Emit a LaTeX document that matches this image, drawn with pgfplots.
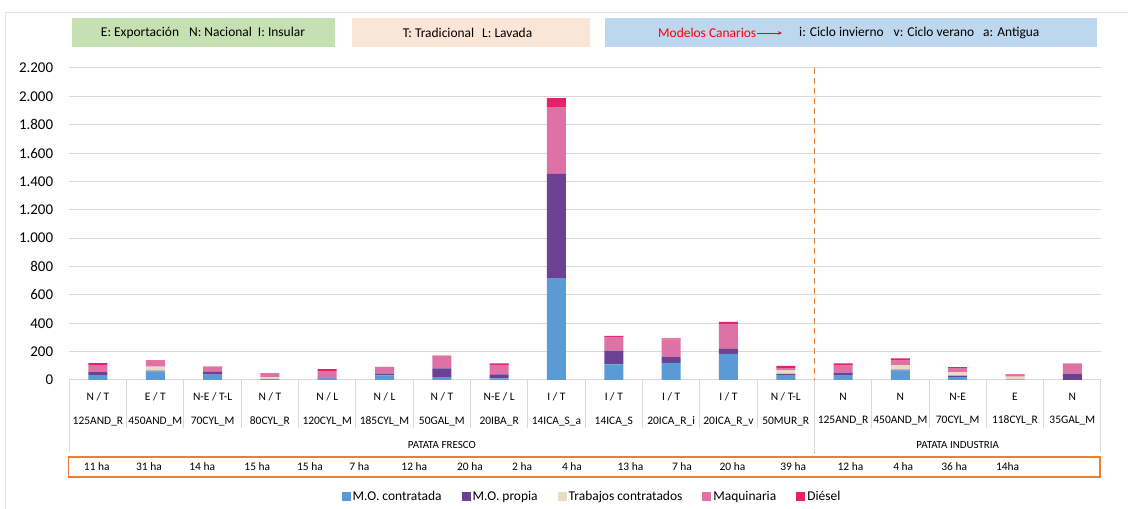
\documentclass[border=0pt]{standalone}
\usepackage{fontspec}
\setmainfont{Carlito}
\usepackage{pgfplots}
\usepackage{pgfplotstable}
\pgfplotsset{compat=1.18}
\usetikzlibrary{arrows.meta}

\definecolor{mocont}{HTML}{5B9BD5}
\definecolor{moprop}{HTML}{6B4194}
\definecolor{trab}{HTML}{E6DDC3}
\definecolor{maq}{HTML}{DE72A6}
\definecolor{dies}{HTML}{E6216A}
\definecolor{gridgray}{HTML}{D9D9D9}
\definecolor{orangeline}{HTML}{ED7D31}
\definecolor{boxgreen}{HTML}{C5E0B3}
\definecolor{boxpeach}{HTML}{FBE5D6}
\definecolor{boxblue}{HTML}{BDD7EE}

% costes por modelo (apilados)
\pgfplotstableread{
x  blue purple beige pink diesel
0   35   21    0    49   14
1   61    5   28    40    5
2   38   19    0    35    2
3    2    5   12    23    4
4   10    7    0    45   14
5   33   12    0    45    2
6   21   61    0    87    2
7   12   28    0    66   12
8  715  739    0   466   68
9  111   96    0    97    7
10 120   45    0   122    7
11 184   35    0   172   18
12  35    8   25    15   17
13  31   21    0    49   16
14  68    5   31    33   16
15  21    9   26    28    7
16   0    2   21    14    5
17   0   45    0    68    2
}\costs

\newcommand{\ha}[2]{\node[font=\fontsize{11.5}{13}\selectfont] at ([yshift=-87bp]axis cs:#1,0) {#2};}

\begin{document}
\begin{tikzpicture}[x=1bp,y=1bp]
\useasboundingbox (0,0) rectangle (1128,509);
\draw[gridgray!70, line width=0.8bp] (5,0) -- (5,497) -- (1128,497);

\begin{axis}[
  at={(69.3bp,129bp)}, anchor=south west,
  scale only axis, width=1031.7bp, height=312bp,
  ybar stacked, bar width=19bp,
  xmin=-0.5, xmax=17.5, ymin=0, ymax=2200,
  axis line style={draw=none},
  major tick length=0pt,
  ymajorgrids, grid style={gridgray, line width=1bp},
  ytick={0,200,...,2200},
  scaled y ticks=false,
  /pgf/number format/assume math mode=true,
  yticklabel style={font=\fontsize{15}{18}\selectfont, anchor=east, inner sep=0pt, xshift=-16bp,
    /pgf/number format/1000 sep={.}},
  xtick={0,...,17},
  xticklabels={
    {N / T\\125AND\_R},{E / T\\450AND\_M},{N-E / T-L\\70CYL\_M},{N / T\\80CYL\_R},
    {N / L\\120CYL\_M},{N / L\\185CYL\_M},{N / T\\50GAL\_M},{N-E / L\\20IBA\_R},
    {I / T\\14ICA\_S\_a},{I / T\\14ICA\_S},{I / T\\20ICA\_R\_i},{I / T\\20ICA\_R\_v},
    {N / T-L\\50MUR\_R},{N\\125AND\_R},{N\\450AND\_M},{N-E\\70CYL\_M},
    {E\\118CYL\_R},{N\\35GAL\_M}},
  xticklabel style={font=\fontsize{11.5}{24}\selectfont, align=center, anchor=north,
    inner sep=0pt, yshift=-12.5bp},
  clip=false,
  legend style={at={(0.5066,-0.375)}, anchor=center, draw=none, fill=none,
    legend columns=5, font=\fontsize{13.5}{16}\selectfont,
    /tikz/every even column/.append style={column sep=18bp}},
  legend image code/.code={\fill[#1] (0bp,-4.5bp) rectangle (9bp,4.5bp);},
]
\addplot[fill=mocont, draw=none] table[x=x, y=blue]{\costs};
\addlegendentry{M.O. contratada}
\addplot[fill=moprop, draw=none] table[x=x, y=purple]{\costs};
\addlegendentry{M.O. propia}
\addplot[fill=trab, draw=none] table[x=x, y=beige]{\costs};
\addlegendentry{Trabajos contratados}
\addplot[fill=maq, draw=none] table[x=x, y=pink]{\costs};
\addlegendentry{Maquinaria}
\addplot[fill=dies, draw=none] table[x=x, y=diesel]{\costs};
\addlegendentry{Diésel}

% separadores de categorías
\pgfplotsinvokeforeach{0.5,1.5,2.5,3.5,4.5,5.5,6.5,7.5,8.5,9.5,10.5,11.5,13.5,14.5,15.5,16.5}{
  \draw[gridgray, line width=1bp] (axis cs:#1,0) -- ([yshift=-48bp]axis cs:#1,0);
}
\pgfplotsinvokeforeach{-0.5,12.5,17.5}{
  \draw[gridgray, line width=1bp] (axis cs:#1,0) -- ([yshift=-72bp]axis cs:#1,0);
}
\draw[orangeline, line width=1.8bp, dash pattern=on 6bp off 4bp]
  (axis cs:12.5,2200) -- ([yshift=-73bp]axis cs:12.5,0);

% grupos
\node[font=\fontsize{11}{13}\selectfont] at ([yshift=-65bp]axis cs:6,0) {PATATA FRESCO};
\node[font=\fontsize{11}{13}\selectfont] at ([yshift=-65bp]axis cs:15,0) {PATATA INDUSTRIA};

% superficie
\draw[orangeline, line width=1.3bp] ([yshift=-77bp]axis cs:-0.52,0) rectangle ([yshift=-97bp]axis cs:17.48,0);
\ha{-0.02}{11 ha}\ha{0.89}{31 ha}\ha{1.82}{14 ha}\ha{2.78}{15 ha}\ha{3.70}{15 ha}\ha{4.56}{7 ha}
\ha{5.52}{12 ha}\ha{6.49}{20 ha}\ha{7.40}{2 ha}\ha{8.27}{4 ha}\ha{9.29}{13 ha}\ha{10.19}{7 ha}
\ha{11.07}{20 ha}\ha{12.13}{39 ha}\ha{13.13}{12 ha}\ha{14.05}{4 ha}\ha{14.94}{36 ha}\ha{15.87}{14ha}
\end{axis}

% cuadros de claves
\fill[boxgreen] (72,462) rectangle (335,491);
\node[font=\fontsize{13.5}{16}\selectfont] at (203,476.5)
  {E: Exportación\hspace{10bp}N: Nacional\hspace{6bp}I: Insular};
\fill[boxpeach] (352,462) rectangle (590,491);
\node[font=\fontsize{13.5}{16}\selectfont] at (467.5,476.5) {T: Tradicional\hspace{8bp}L: Lavada};
\fill[boxblue] (605,462) rectangle (1097,491);
\node[font=\fontsize{13.5}{16}\selectfont, text=red, anchor=west, inner sep=0pt] at (658,476.5) {Modelos Canarios};
\draw[red, line width=0.9bp, -{Stealth[length=4bp,width=3.5bp]}] (757,476) -- (782,476);
\node[font=\fontsize{13.5}{16}\selectfont, anchor=west, inner sep=0pt] at (799,476.5)
  {i: Ciclo invierno\hspace{10bp}v: Ciclo verano\hspace{9bp}a: Antigua};
\end{tikzpicture}
\end{document}
